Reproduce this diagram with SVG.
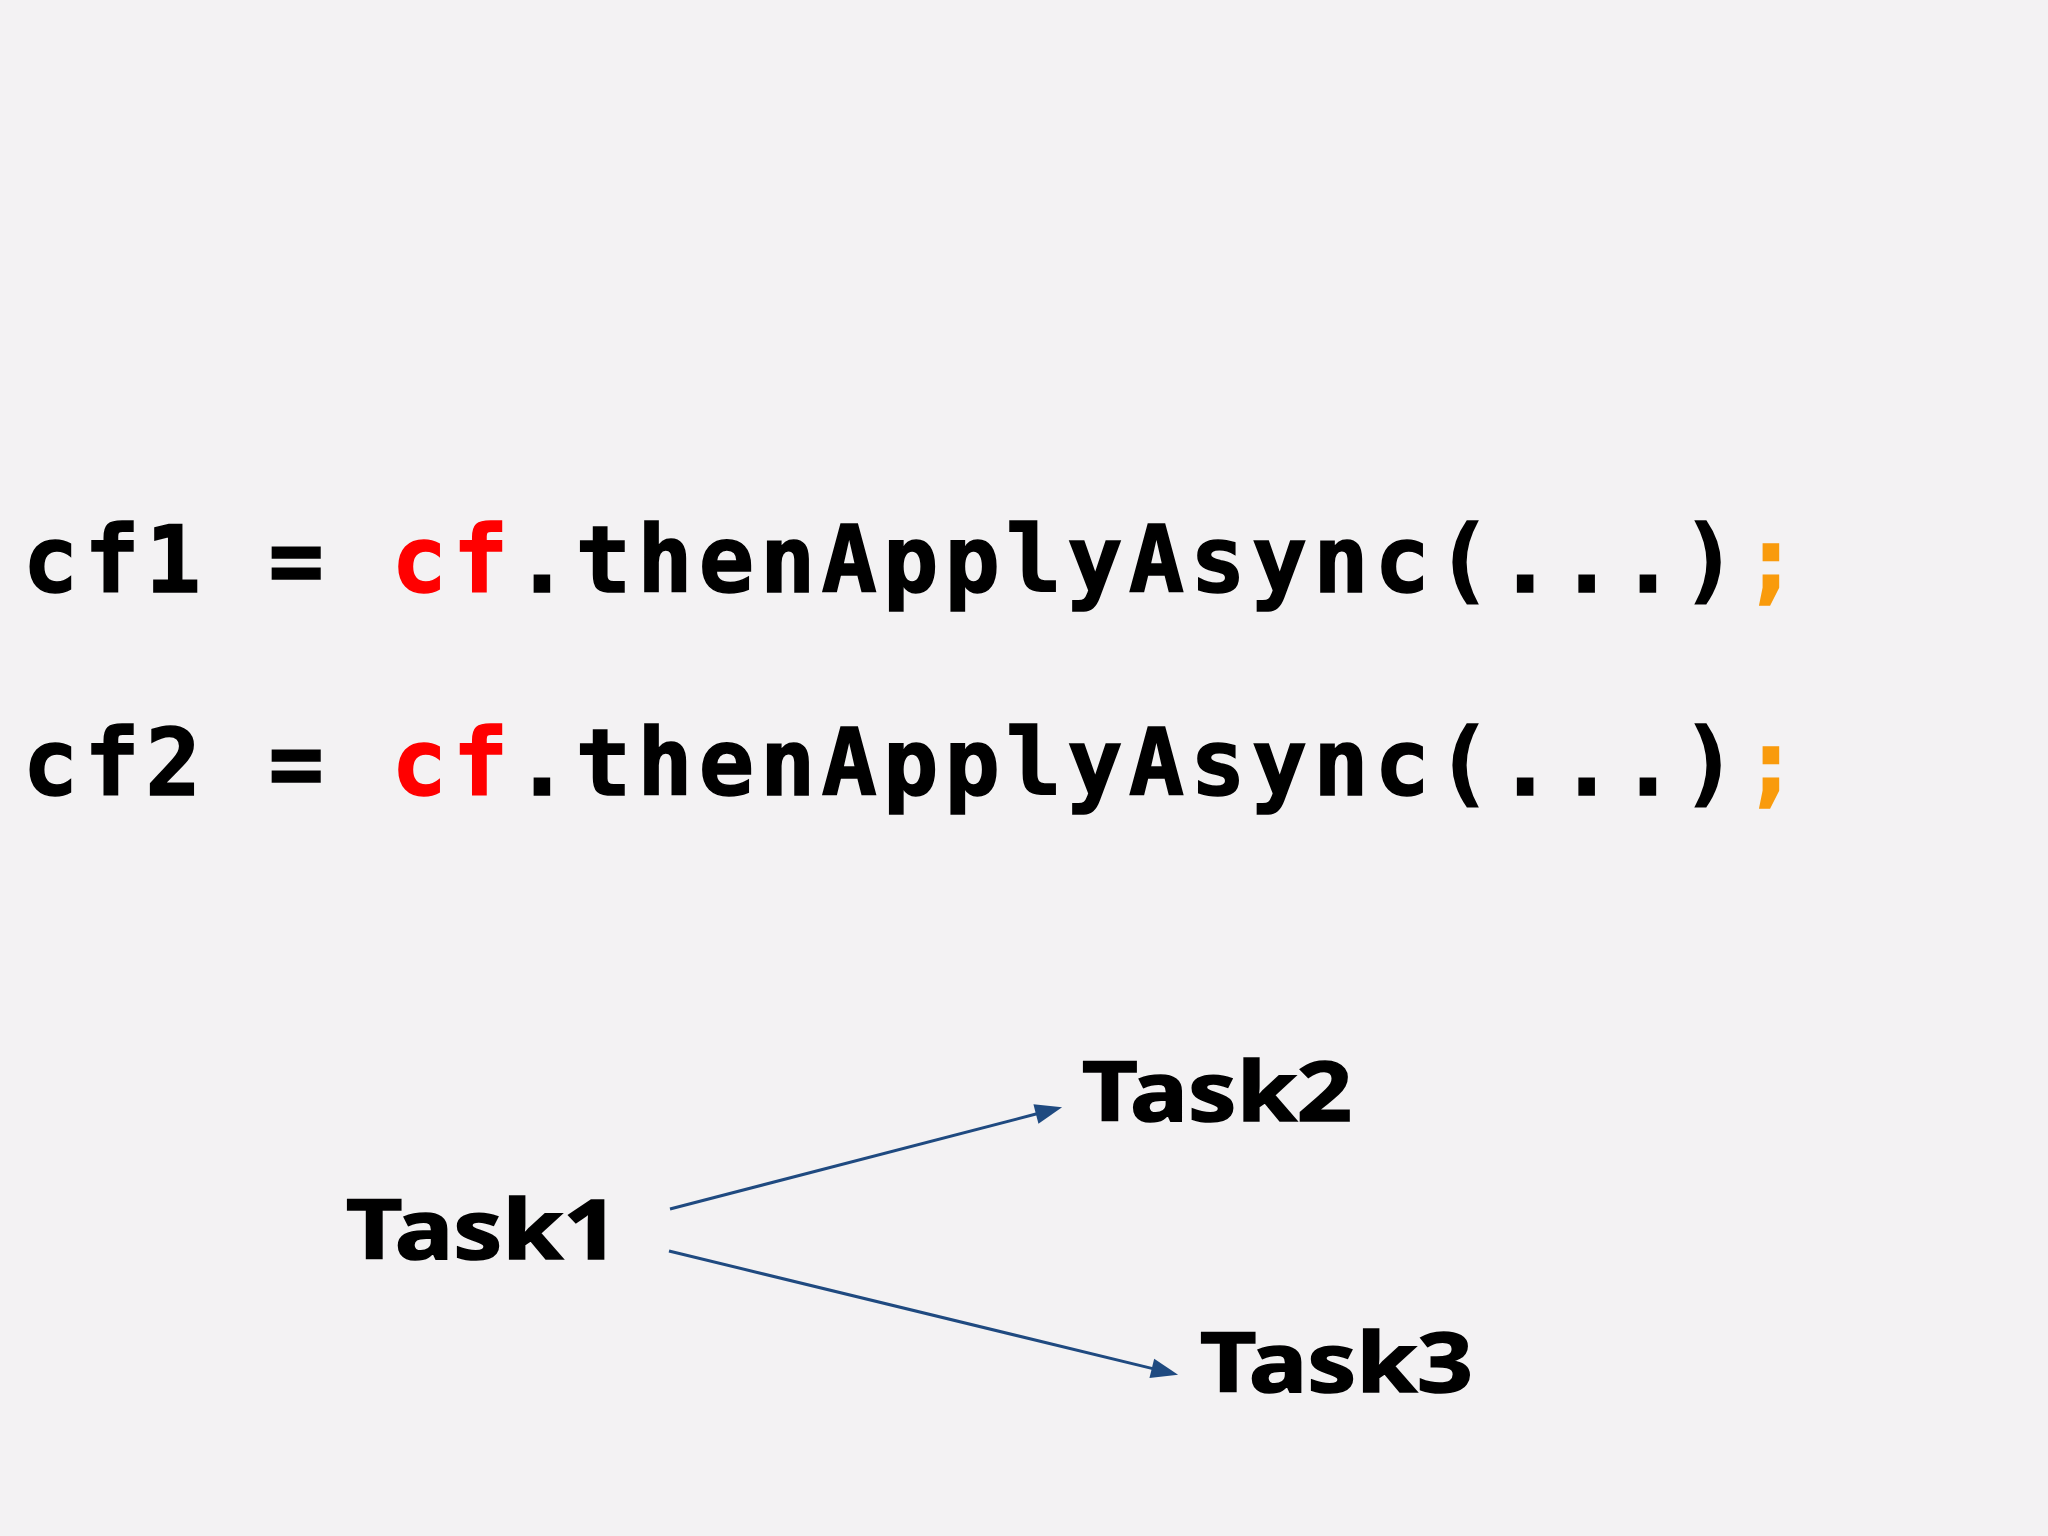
<svg xmlns="http://www.w3.org/2000/svg" width="2048" height="1536" viewBox="0 0 2048 1536">
<style>
.code{font-family:"DejaVu Sans Mono","Liberation Mono",monospace;font-weight:bold;font-size:92px;letter-spacing:6.06px;fill:#000;stroke:#000;stroke-width:1.6px}
.red{fill:#ff0000;stroke:#ff0000}
.semi{fill:#f99b0c;stroke:#f99b0c}
.task{font-family:"Noto Sans","Open Sans",sans-serif;font-weight:bold;font-size:82px;fill:#000;stroke:#000;stroke-width:1.6px}
.edge{fill:none;stroke:#1f4a80;stroke-width:3}
</style>
<defs>
<marker id="ah" markerUnits="userSpaceOnUse" markerWidth="28" markerHeight="20" refX="1" refY="10" orient="auto" overflow="visible">
<path d="M0,0 L27,10 L0,20 z" fill="#1f4a80"/>
</marker>
</defs>
<rect width="2048" height="1536" fill="#f3f2f3"/>
<g id="code">
<text class="code" x="22.7" y="592" xml:space="preserve">cf1 = <tspan class="red">cf</tspan>.thenApplyAsync(...)<tspan class="semi">;</tspan></text>
<text class="code" x="22.7" y="795" xml:space="preserve">cf2 = <tspan class="red">cf</tspan>.thenApplyAsync(...)<tspan class="semi">;</tspan></text>
</g>
<g id="task1"><text class="task" x="346" y="1259" textLength="273" lengthAdjust="spacingAndGlyphs">Task1</text></g>
<g id="task2"><text class="task" x="1082" y="1121" textLength="270" lengthAdjust="spacingAndGlyphs">Task2</text></g>
<g id="task3"><text class="task" x="1200" y="1392" textLength="273" lengthAdjust="spacingAndGlyphs">Task3</text></g>
<g id="connectors">
<path class="edge" d="M670,1209 L1036.9,1113.8" marker-end="url(#ah)"/>
<path class="edge" d="M669,1251 L1152.8,1368.6" marker-end="url(#ah)"/>
</g>
</svg>
